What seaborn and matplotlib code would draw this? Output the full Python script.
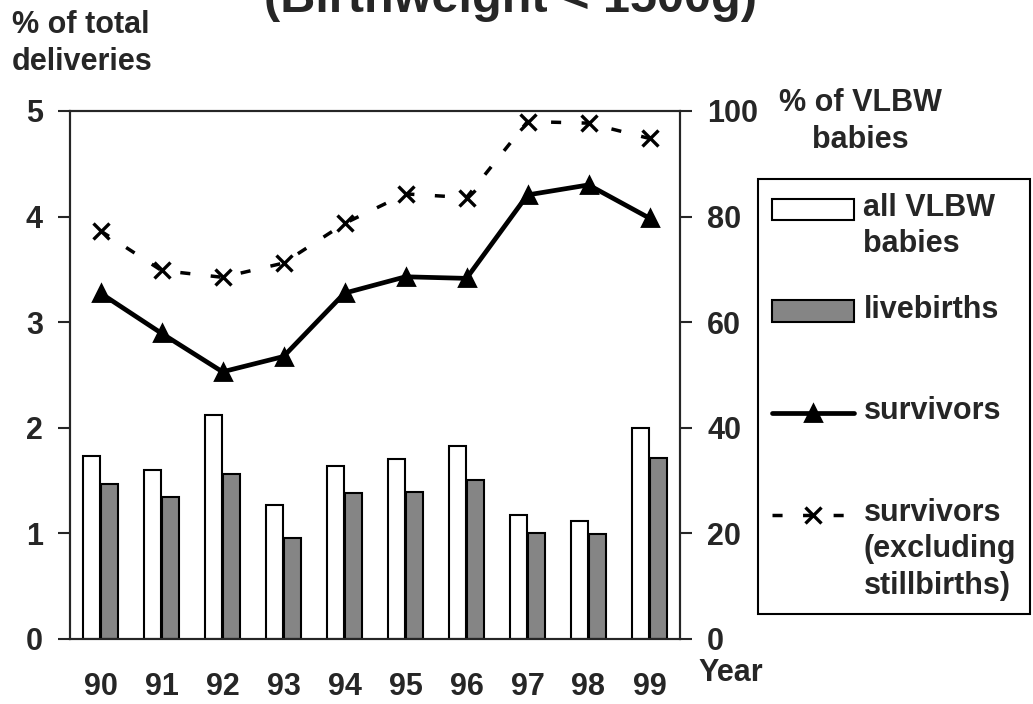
import numpy as np
import pandas as pd
import matplotlib
matplotlib.use("Agg")
import matplotlib.pyplot as plt
import matplotlib.transforms as mtransforms
from matplotlib.legend_handler import HandlerPatch, HandlerLine2D
import seaborn as sns

# ---- data ----
years = ["90", "91", "92", "93", "94", "95", "96", "97", "98", "99"]
all_vlbw = [1.73, 1.60, 2.12, 1.27, 1.64, 1.70, 1.83, 1.17, 1.12, 2.00]
livebirths = [1.47, 1.34, 1.56, 0.96, 1.38, 1.39, 1.51, 1.00, 0.99, 1.71]
survivors = [65.5, 57.9, 50.6, 53.5, 65.5, 68.6, 68.3, 84.1, 86.0, 79.7]
survivors_excl = [77.3, 69.8, 68.5, 71.2, 78.7, 84.3, 83.6, 98.0, 97.7, 94.8]

bar_names = ["all VLBW babies", "livebirths"]
line_names = ["survivors", "survivors excl"]
# padded to three lines so every entry has the same height
legend_labels = ["all VLBW\nbabies\n", "livebirths\n\n", "survivors\n\n",
                 "survivors\n(excluding\nstillbirths)"]

bars_df = pd.DataFrame({
    "year": years * 2,
    "value": all_vlbw + livebirths,
    "series": [bar_names[0]] * len(years) + [bar_names[1]] * len(years),
})
lines_df = pd.DataFrame({
    "year": years * 2,
    "value": survivors + survivors_excl,
    "series": [line_names[0]] * len(years) + [line_names[1]] * len(years),
})

# ---- style ----
sns.set_style("ticks")
plt.rcParams["font.family"] = ["Liberation Sans", "DejaVu Sans"]
plt.rcParams["font.weight"] = "bold"
plt.rcParams["font.size"] = 22
plt.rcParams["axes.linewidth"] = 1.5

fig = plt.figure(figsize=(10.33, 7.04), dpi=100)
ax = fig.add_axes([70 / 1033, 1 - 639 / 704, 610 / 1033, 528 / 704])
ax2 = ax.twinx()

sns.barplot(data=bars_df, x="year", y="value", hue="series",
            palette=["white", "#858585"], saturation=1, edgecolor="black",
            linewidth=1.5, width=0.6, gap=0.05, ax=ax, legend=False)

sns.pointplot(data=lines_df, x="year", y="value", hue="series",
              palette=["black", "black"], markers=["^", "x"],
              linestyles=["-", "--"], errorbar=None, ax=ax2, legend=False)

series_lines = [ln for ln in ax2.lines if len(ln.get_xdata()) == len(years)]
solid, dashed = series_lines[0], series_lines[1]
solid.set_linewidth(3.4)
solid.set_markersize(11)
dashed.set_linewidth(2.5)
dashed.set_linestyle((0, (2.9, 5.9)))
dashed.set_markersize(11)
dashed.set_markeredgewidth(2.4)

ax.set_xlim(-0.5, len(years) - 0.5)
ax.set_ylim(0, 5)
ax2.set_ylim(0, 100)
ax.set_yticks([0, 1, 2, 3, 4, 5])
ax2.set_yticks([0, 20, 40, 60, 80, 100])
ax.set_xlabel("")
ax.set_ylabel("")
ax2.set_ylabel("")
ax2.set_xlabel("")

ax.tick_params(axis="x", length=0, pad=24, labelsize=22)
ax.tick_params(axis="y", length=8.6, width=1.5, pad=11, labelsize=22)
ax2.tick_params(axis="y", length=8.6, width=1.5, pad=11, labelsize=22)
for side in ["top", "right", "left", "bottom"]:
    ax.spines[side].set_visible(True)
    ax.spines[side].set_color("black")

# ---- text ----
fig.text(510 / 1033, 1 - 12 / 704, "(Birthweight < 1500g)", ha="center",
         va="baseline", fontsize=35, fontweight="bold")
fig.text(12 / 1033, 1 - 10 / 704, "% of total\ndeliveries", ha="left",
         va="top", fontsize=22, fontweight="bold", linespacing=1.3)
fig.text(860 / 1033, 1 - 88 / 704, "% of VLBW\nbabies", ha="center",
         va="top", fontsize=22, fontweight="bold", linespacing=1.3,
         multialignment="center")
fig.text(698 / 1033, 1 - 681 / 704, "Year", ha="left", va="baseline",
         fontsize=22, fontweight="bold")


# ---- legend: handle next to the first line of each label ----
class ShiftPatch(HandlerPatch):
    def __init__(self, dy, **kw):
        super().__init__(**kw)
        self.dy = dy

    def create_artists(self, legend, orig_handle, xdescent, ydescent, width,
                       height, fontsize, trans):
        trans = mtransforms.Affine2D().translate(0, self.dy) + trans
        return super().create_artists(legend, orig_handle, xdescent, ydescent,
                                      width, height, fontsize, trans)


class ShiftLine(HandlerLine2D):
    def __init__(self, dy, **kw):
        super().__init__(**kw)
        self.dy = dy

    def create_artists(self, legend, orig_handle, xdescent, ydescent, width,
                       height, fontsize, trans):
        trans = mtransforms.Affine2D().translate(0, self.dy) + trans
        return super().create_artists(legend, orig_handle, xdescent, ydescent,
                                      width, height, fontsize, trans)


handles = [ax.containers[0].patches[0], ax.containers[1].patches[0], solid, dashed]
dy = 25.5
leg = fig.legend(handles, legend_labels, loc="upper left",
                 bbox_to_anchor=(758 / 1033, 1 - 179 / 704), borderaxespad=0,
                 frameon=True, fancybox=False, edgecolor="black",
                 framealpha=1, borderpad=0.45, handlelength=2.7,
                 handletextpad=0.3, labelspacing=-0.02, fontsize=22,
                 handler_map={handles[0]: ShiftPatch(dy), handles[1]: ShiftPatch(dy),
                              solid: ShiftLine(dy), dashed: ShiftLine(dy)})
leg.get_frame().set_linewidth(1.5)
for t in leg.get_texts():
    t.set_linespacing(1.27)

fig.savefig("out.png", dpi=100)
